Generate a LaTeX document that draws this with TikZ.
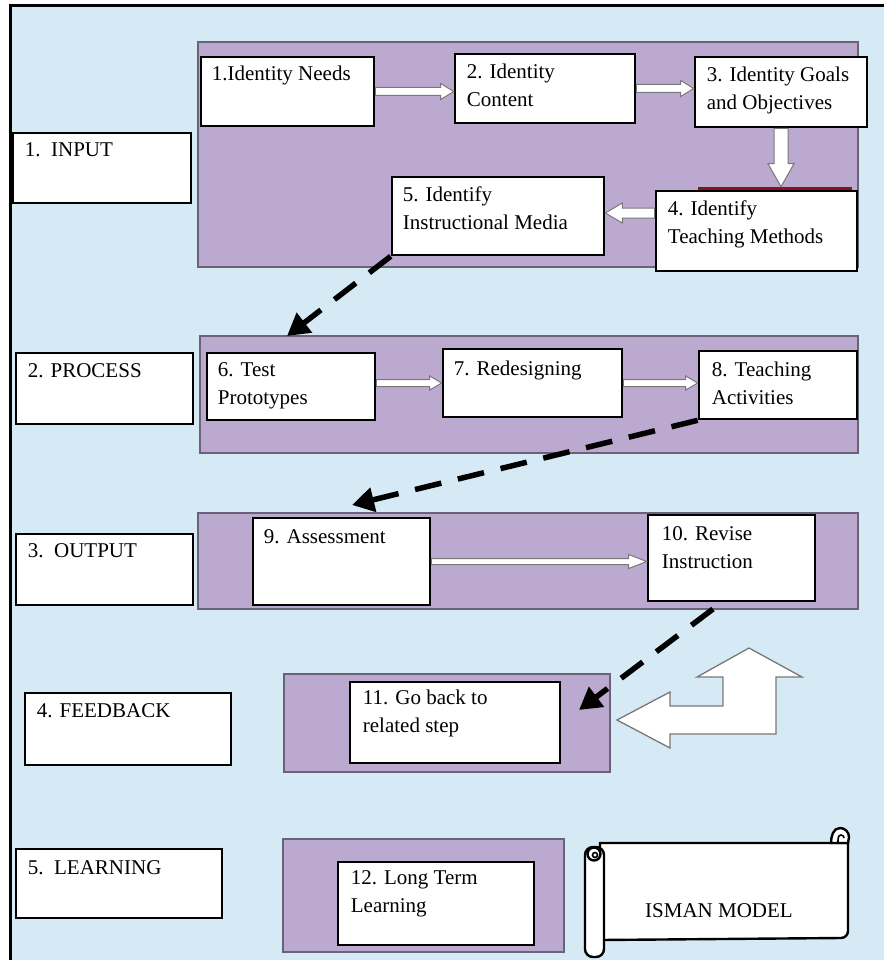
\documentclass[tikz,border=0pt]{standalone}
\usepackage{fontspec}
\setmainfont{Liberation Serif}
\usetikzlibrary{arrows.meta,calc,fit}
\definecolor{bgblue}{RGB}{214,234,245}
\definecolor{panelpurple}{RGB}{188,169,207}
\definecolor{paneledge}{RGB}{105,98,120}
\definecolor{arrowgray}{RGB}{120,120,120}
\definecolor{stripred}{RGB}{130,20,30}
\newcommand{\hollowarrow}[5]{%
  \path ($#2!#5!#1$) coordinate (hh);
  \filldraw[hollow] ($#1!#3!90:#2$) -- ($(hh)!#3!90:#2$) -- ($(hh)!#4!90:#2$) -- #2 -- ($(hh)!#4!-90:#2$) -- ($(hh)!#3!-90:#2$) -- ($#1!#3!-90:#2$) -- cycle;
}
\begin{document}
\begin{tikzpicture}[x=1pt,y=-1pt,
  panel/.style={draw=paneledge, fill=panelpurple, line width=1.2pt, inner sep=0pt},
  stepbox/.style={draw=black, fill=white, line width=2.6pt, inner sep=0pt},
  txt/.style={font=\fontsize{21}{28}\selectfont, inner sep=0pt, align=left, anchor=north west},
  hollow/.style={fill=white, draw=arrowgray, line width=1pt, line join=miter},
  dasharrow/.style={line width=5.5pt, dash pattern=on 27pt off 17pt, -{Triangle[length=22pt,width=24pt]}},
  scrollst/.style={fill=white, draw=black, line width=2.4pt}
]
\useasboundingbox (0,0) rectangle (884,960);
% background and frame
\fill[white] (0,0) rectangle (884,960);
\fill[bgblue] (10,5) rectangle (884,960);
\draw[line width=3pt] (10.5,960) -- (10.5,5.5) -- (884,5.5);

% panels
\node[panel, fit={(198,42) (858,267)}] (p1) {};
\node[panel, fit={(200,336) (858,453)}] (p2) {};
\node[panel, fit={(198,513) (858,609)}] (p3) {};
\node[panel, fit={(284,674) (610,772)}] (p4) {};
\node[panel, fit={(283,839) (564,952)}] (p5) {};

% stage labels
\node[stepbox, fit={(13,133) (191,203)}] (l1) {};
\node[stepbox, fit={(16,353) (193,424)}] (l2) {};
\node[stepbox, fit={(16,534) (193,605)}] (l3) {};
\node[stepbox, fit={(25,693) (231,765)}] (l4) {};
\node[stepbox, fit={(16,849) (222,918)}] (l5) {};
\node[txt] (tl1) at ([shift={(13,5.4)}]l1.north west) {\strut 1.\ \ INPUT};
\node[txt] (tl2) at ([shift={(13,6.4)}]l2.north west) {\strut 2. PROCESS};
\node[txt] (tl3) at ([shift={(13,5.4)}]l3.north west) {\strut 3.\ \ OUTPUT};
\node[txt] (tl4) at ([shift={(13,6.4)}]l4.north west) {\strut 4. FEEDBACK};
\node[txt] (tl5) at ([shift={(13,7.4)}]l5.north west) {\strut 5.\ \ LEARNING};

% step boxes
\fill[stripred] (698,187) rectangle (852,192);
\node[stepbox, fit={(201,57) (374,126)}] (n1) {};
\node[stepbox, fit={(455,54) (635,123)}] (n2) {};
\node[stepbox, fit={(695,57) (867,127)}] (n3) {};
\node[stepbox, fit={(656,191) (857,271)}] (n4) {};
\node[stepbox, fit={(392,177) (604,255)}] (n5) {};
\node[stepbox, fit={(207,353) (375,420)}] (n6) {};
\node[stepbox, fit={(443,349) (622,417)}] (n7) {};
\node[stepbox, fit={(699,351) (857,419)}] (n8) {};
\node[stepbox, fit={(253,518) (430,605)}] (n9) {};
\node[stepbox, fit={(648,515) (815,601)}] (n10) {};
\node[stepbox, fit={(350,682) (560,763)}] (n11) {};
\node[stepbox, fit={(338,862) (534,945)}] (n12) {};

\node[txt] (t1) at ([shift={(12,5.4)}]n1.north west) {\strut 1.Identity Needs};
\node[txt] (t2) at ([shift={(13,6.4)}]n2.north west) {\strut 2. Identity\\Content};
\node[txt] (t3) at ([shift={(13,6.4)}]n3.north west) {\strut 3. Identity Goals\\and Objectives};
\node[txt] (t4) at ([shift={(13,6.4)}]n4.north west) {\strut 4. Identify\\Teaching Methods};
\node[txt] (t5) at ([shift={(12,6.4)}]n5.north west) {\strut 5. Identify\\Instructional Media};
\node[txt] (t6) at ([shift={(12,5.4)}]n6.north west) {\strut 6. Test\\Prototypes};
\node[txt] (t7) at ([shift={(12,8)}]n7.north west) {\strut 7. Redesigning};
\node[txt] (t8) at ([shift={(14,7.4)}]n8.north west) {\strut 8. Teaching\\Activities};
\node[txt] (t9) at ([shift={(12,7.4)}]n9.north west) {\strut 9. Assessment};
\node[txt] (t10) at ([shift={(15,7.4)}]n10.north west) {\strut 10. Revise\\Instruction};
\node[txt] (t11) at ([shift={(14,4.4)}]n11.north west) {\strut 11. Go back to\\related step};
\node[txt] (t12) at ([shift={(14,4.4)}]n12.north west) {\strut 12. Long Term\\Learning};

% hollow connectors
\coordinate (a12s) at (n1.east); \coordinate (a12e) at (n2.west |- n1.east);
\hollowarrow{(a12s)}{(a12e)}{4pt}{8pt}{13pt}
\coordinate (a23s) at (n2.east); \coordinate (a23e) at (n3.west |- n2.east);
\hollowarrow{(a23s)}{(a23e)}{4pt}{8pt}{13pt}
\coordinate (a34s) at (n3.south); \coordinate (a34e) at ([yshift=3pt]n4.north -| n3.south);
\hollowarrow{(a34s)}{(a34e)}{7pt}{13pt}{23pt}
\coordinate (a45s) at ([yshift=3pt]n4.west |- n5.east); \coordinate (a45e) at ([yshift=3pt]n5.east);
\hollowarrow{(a45s)}{(a45e)}{5pt}{10pt}{17pt}
\coordinate (a67s) at (n6.east |- n7.west); \coordinate (a67e) at (n7.west);
\hollowarrow{(a67s)}{(a67e)}{3.5pt}{7pt}{12pt}
\coordinate (a78s) at (n7.east); \coordinate (a78e) at (n8.west |- n7.east);
\hollowarrow{(a78s)}{(a78e)}{3.5pt}{7pt}{12pt}
\coordinate (a910s) at (n9.east); \coordinate (a910e) at (n10.west |- n9.east);
\hollowarrow{(a910s)}{(a910e)}{3pt}{7pt}{18pt}

% dashed connectors
\coordinate (c6) at (287,336);
\coordinate (c9) at (352,505);
\coordinate (c10) at (713,609);
\coordinate (c11) at (579,710);
\draw[dasharrow] (n5.south west) -- (c6);
\draw[dasharrow] (n8.south west) -- (c9);
\draw[dasharrow] (c10) -- (c11);

% bent feedback arrow
\filldraw[hollow, line width=1.3pt] (617,720) -- (670,692) -- (670,706) -- (723,706) -- (723,677) -- (697,677) -- (749,648) -- (802,677) -- (776,677) -- (776,734) -- (670,734) -- (670,748) -- cycle;

% scroll
\filldraw[scrollst] (600,843) -- (848,843) -- (848,931) to[out=-90,in=0] (841,938) -- (600,940) -- cycle;
\filldraw[scrollst] (831,843) to[out=90,in=180] (840,828) to[out=0,in=90] (849,837) -- (848,843) -- cycle;
\draw[line width=1.6pt] (838,843) to[out=90,in=180] (841,835) to[out=0,in=90] (844,838);
\filldraw[scrollst, rounded corners=8pt] (585,847) rectangle (604,957);
\filldraw[scrollst] (594,854) circle (6.5);
\draw[line width=1.6pt] (595,855) circle (2.5);
\node[font=\fontsize{21}{28}\selectfont, inner sep=0pt, anchor=base] (tism) at (719,917) {ISMAN MODEL};
\end{tikzpicture}
\end{document}
